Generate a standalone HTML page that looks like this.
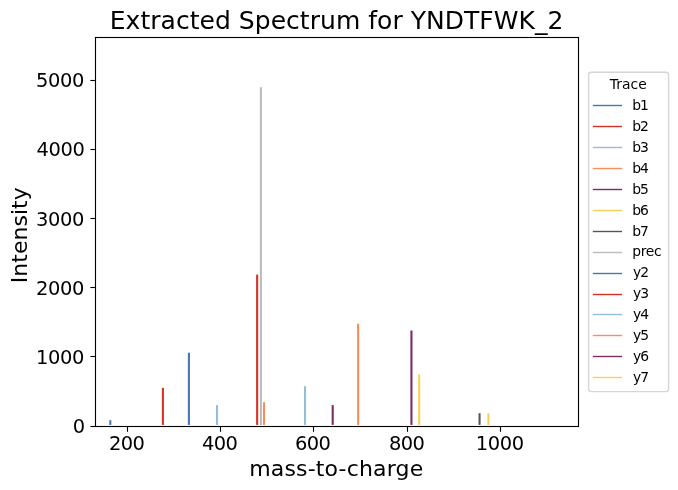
<!DOCTYPE html>
<html><head><meta charset="utf-8"><title>Extracted Spectrum</title>
<style>html,body{margin:0;padding:0;background:#fff}svg{display:block}text{font-family:"DejaVu Sans","Liberation Sans",sans-serif;fill:#000}</style></head>
<body>
<svg width="678" height="490" viewBox="0 0 678 490">
<rect width="678" height="490" fill="#fff"/>
<line x1="110.3" x2="110.3" y1="424.9" y2="420.2" stroke="#4575B4" stroke-width="2.08"/>
<line x1="162.9" x2="162.9" y1="424.9" y2="387.8" stroke="#D73027" stroke-width="2.08"/>
<line x1="188.9" x2="188.9" y1="424.9" y2="352.7" stroke="#4575B4" stroke-width="2.08"/>
<line x1="217.0" x2="217.0" y1="424.9" y2="405.1" stroke="#91BFDB" stroke-width="2.08"/>
<line x1="257.15" x2="257.15" y1="424.9" y2="274.6" stroke="#D73027" stroke-width="2.08"/>
<line x1="260.9" x2="260.9" y1="424.9" y2="87.2" stroke="#BBBBBB" stroke-width="2.08"/>
<line x1="264.0" x2="264.0" y1="424.9" y2="402.2" stroke="#FC8D59" stroke-width="2.08"/>
<line x1="305.0" x2="305.0" y1="424.9" y2="386.2" stroke="#91BFDB" stroke-width="2.08"/>
<line x1="332.7" x2="332.7" y1="424.9" y2="405.1" stroke="#7B2C65" stroke-width="2.08"/>
<line x1="358.1" x2="358.1" y1="424.9" y2="323.7" stroke="#FC8D59" stroke-width="2.08"/>
<line x1="411.45" x2="411.45" y1="424.9" y2="330.5" stroke="#7B2C65" stroke-width="2.08"/>
<line x1="419.2" x2="419.2" y1="424.9" y2="374.5" stroke="#FCCF53" stroke-width="2.08"/>
<line x1="479.55" x2="479.55" y1="424.9" y2="413.2" stroke="#555555" stroke-width="2.08"/>
<line x1="488.4" x2="488.4" y1="424.9" y2="413.2" stroke="#FCCF53" stroke-width="2.08"/>
<rect x="95.5" y="37.5" width="483.0" height="389.0" fill="none" stroke="#000" stroke-width="1.11"/>
<line x1="127.5" x2="127.5" y1="426.5" y2="431.8" stroke="#000" stroke-width="1.11"/>
<text x="126.9" y="449.9" font-size="19.44" text-anchor="middle" textLength="36.00" lengthAdjust="spacing">200</text>
<line x1="220.5" x2="220.5" y1="426.5" y2="431.8" stroke="#000" stroke-width="1.11"/>
<text x="219.9" y="449.9" font-size="19.44" text-anchor="middle" textLength="36.00" lengthAdjust="spacing">400</text>
<line x1="313.5" x2="313.5" y1="426.5" y2="431.8" stroke="#000" stroke-width="1.11"/>
<text x="312.9" y="449.9" font-size="19.44" text-anchor="middle" textLength="36.00" lengthAdjust="spacing">600</text>
<line x1="407.5" x2="407.5" y1="426.5" y2="431.8" stroke="#000" stroke-width="1.11"/>
<text x="406.9" y="449.9" font-size="19.44" text-anchor="middle" textLength="36.00" lengthAdjust="spacing">800</text>
<line x1="500.5" x2="500.5" y1="426.5" y2="431.8" stroke="#000" stroke-width="1.11"/>
<text x="499.9" y="449.9" font-size="19.44" text-anchor="middle" textLength="48.37" lengthAdjust="spacing">1000</text>
<line x1="90.4" x2="95.5" y1="426.5" y2="426.5" stroke="#000" stroke-width="1.11"/>
<text x="85.2" y="433.2" font-size="19.44" text-anchor="end" textLength="12.37" lengthAdjust="spacing">0</text>
<line x1="90.4" x2="95.5" y1="356.5" y2="356.5" stroke="#000" stroke-width="1.11"/>
<text x="84.3" y="364.2" font-size="19.44" text-anchor="end" textLength="48.37" lengthAdjust="spacing">1000</text>
<line x1="90.4" x2="95.5" y1="287.5" y2="287.5" stroke="#000" stroke-width="1.11"/>
<text x="84.3" y="295.2" font-size="19.44" text-anchor="end" textLength="48.37" lengthAdjust="spacing">2000</text>
<line x1="90.4" x2="95.5" y1="218.5" y2="218.5" stroke="#000" stroke-width="1.11"/>
<text x="84.3" y="226.2" font-size="19.44" text-anchor="end" textLength="48.37" lengthAdjust="spacing">3000</text>
<line x1="90.4" x2="95.5" y1="149.5" y2="149.5" stroke="#000" stroke-width="1.11"/>
<text x="84.9" y="156.2" font-size="19.44" text-anchor="end" textLength="48.37" lengthAdjust="spacing">4000</text>
<line x1="90.4" x2="95.5" y1="80.5" y2="80.5" stroke="#000" stroke-width="1.11"/>
<text x="84.3" y="87.2" font-size="19.44" text-anchor="end" textLength="48.37" lengthAdjust="spacing">5000</text>
<text x="336.6" y="28.8" font-size="25" text-anchor="middle" textLength="453.64" lengthAdjust="spacing">Extracted Spectrum for YNDTFWK_2</text>
<text x="336.2" y="475.8" font-size="22" text-anchor="middle" textLength="174.10" lengthAdjust="spacing">mass-to-charge</text>
<text x="0" y="0" font-size="22" text-anchor="middle" textLength="95.91" lengthAdjust="spacing" transform="translate(26.9,235.2) rotate(-90)">Intensity</text>
<rect x="588.6" y="72.3" width="80" height="319.3" rx="2.8" ry="2.8" fill="#fff" stroke="#d6d6d6" stroke-width="1.39"/>
<text x="628.3" y="88.6" font-size="13.89" text-anchor="middle" textLength="37.15" lengthAdjust="spacing">Trace</text>
<line x1="593.5" x2="621.4" y1="105.5" y2="105.5" stroke="#4575B4" stroke-width="1.39" stroke-linecap="square"/>
<text x="632.3" y="110" font-size="13.89" textLength="16.65" lengthAdjust="spacing">b1</text>
<line x1="593.5" x2="621.4" y1="126.5" y2="126.5" stroke="#D73027" stroke-width="1.39" stroke-linecap="square"/>
<text x="632.3" y="131" font-size="13.89" textLength="16.65" lengthAdjust="spacing">b2</text>
<line x1="593.5" x2="621.4" y1="147.5" y2="147.5" stroke="#91BFDB" stroke-width="1.39" stroke-linecap="square"/>
<text x="632.3" y="152" font-size="13.89" textLength="16.65" lengthAdjust="spacing">b3</text>
<line x1="593.5" x2="621.4" y1="168.5" y2="168.5" stroke="#FC8D59" stroke-width="1.39" stroke-linecap="square"/>
<text x="632.3" y="173" font-size="13.89" textLength="16.65" lengthAdjust="spacing">b4</text>
<line x1="593.5" x2="621.4" y1="189.5" y2="189.5" stroke="#7B2C65" stroke-width="1.39" stroke-linecap="square"/>
<text x="632.3" y="194" font-size="13.89" textLength="16.65" lengthAdjust="spacing">b5</text>
<line x1="593.5" x2="621.4" y1="210.5" y2="210.5" stroke="#FCCF53" stroke-width="1.39" stroke-linecap="square"/>
<text x="632.3" y="215" font-size="13.89" textLength="16.65" lengthAdjust="spacing">b6</text>
<line x1="593.5" x2="621.4" y1="231.5" y2="231.5" stroke="#555555" stroke-width="1.39" stroke-linecap="square"/>
<text x="632.3" y="236" font-size="13.89" textLength="16.65" lengthAdjust="spacing">b7</text>
<line x1="593.5" x2="621.4" y1="252.5" y2="252.5" stroke="#BBBBBB" stroke-width="1.39" stroke-linecap="square"/>
<text x="632.3" y="256" font-size="13.89" textLength="29.40" lengthAdjust="spacing">prec</text>
<line x1="593.5" x2="621.4" y1="273.5" y2="273.5" stroke="#4575B4" stroke-width="1.39" stroke-linecap="square"/>
<text x="633.0" y="277" font-size="13.89" textLength="16.06" lengthAdjust="spacing">y2</text>
<line x1="593.5" x2="621.4" y1="294.5" y2="294.5" stroke="#D73027" stroke-width="1.39" stroke-linecap="square"/>
<text x="633.0" y="298" font-size="13.89" textLength="16.06" lengthAdjust="spacing">y3</text>
<line x1="593.5" x2="621.4" y1="314.5" y2="314.5" stroke="#91BFDB" stroke-width="1.39" stroke-linecap="square"/>
<text x="633.0" y="319" font-size="13.89" textLength="16.06" lengthAdjust="spacing">y4</text>
<line x1="593.5" x2="621.4" y1="335.5" y2="335.5" stroke="#FC8D59" stroke-width="1.39" stroke-linecap="square"/>
<text x="633.0" y="340" font-size="13.89" textLength="16.06" lengthAdjust="spacing">y5</text>
<line x1="593.5" x2="621.4" y1="356.5" y2="356.5" stroke="#7B2C65" stroke-width="1.39" stroke-linecap="square"/>
<text x="633.0" y="361" font-size="13.89" textLength="16.06" lengthAdjust="spacing">y6</text>
<line x1="593.5" x2="621.4" y1="377.5" y2="377.5" stroke="#FCCF53" stroke-width="1.39" stroke-linecap="square"/>
<text x="633.0" y="382" font-size="13.89" textLength="16.06" lengthAdjust="spacing">y7</text>
</svg>
</body></html>
